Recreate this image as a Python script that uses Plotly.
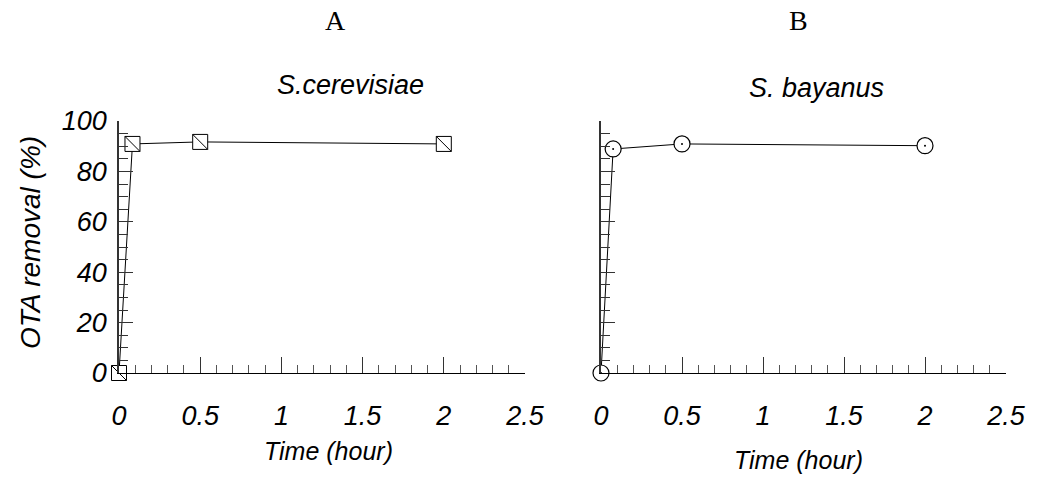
import plotly.graph_objects as go

# ---- data ----
time_a = [0, 0.083, 0.5, 2]
removal_a = [0, 90.9, 91.7, 90.9]
time_b = [0, 0.075, 0.5, 2]
removal_b = [0, 88.9, 90.9, 90.2]

panel_letters = ["A", "B"]
strain_names = ["S.cerevisiae", "S. bayanus"]
x_tickvals = [0, 0.5, 1, 1.5, 2, 2.5]
x_ticktext = ["0", "0.5", "1", "1.5", "2", "2.5"]
y_tickvals = [0, 20, 40, 60, 80, 100]
y_ticktext = ["0", "20", "40", "60", "80", "100"]
x_title = "Time (hour)"
y_title = "OTA removal (%)"

W, H = 1037, 486
SANS = "Liberation Sans, Arial, sans-serif"
SERIF = "Liberation Serif, Times New Roman, serif"

def px(x):
    return x / W

def py(y):
    return (H - y) / H

fig = go.Figure()

# Panel A: squares with a diagonal
fig.add_trace(go.Scatter(
    x=time_a, y=removal_a, mode="lines+markers", xaxis="x", yaxis="y",
    line=dict(color="black", width=1),
    marker=dict(symbol="square", size=15, color="white",
                line=dict(color="black", width=1)),
    cliponaxis=False, showlegend=False))
fig.add_trace(go.Scatter(
    x=time_a, y=removal_a, mode="markers", xaxis="x", yaxis="y",
    marker=dict(symbol="line-nw", size=15, color="black",
                line=dict(color="black", width=1)),
    cliponaxis=False, showlegend=False))

# Panel B: circles with a centre dot
fig.add_trace(go.Scatter(
    x=time_b, y=removal_b, mode="lines+markers", xaxis="x2", yaxis="y2",
    line=dict(color="black", width=1),
    marker=dict(symbol="circle", size=16, color="white",
                line=dict(color="black", width=1.2)),
    cliponaxis=False, showlegend=False))
fig.add_trace(go.Scatter(
    x=time_b, y=removal_b, mode="markers", xaxis="x2", yaxis="y2",
    marker=dict(symbol="circle", size=2, color="black"),
    cliponaxis=False, showlegend=False))

tickfont = dict(family=SANS, size=27, color="black", style="italic")

def xaxis(domain, anchor):
    return dict(
        domain=domain, anchor=anchor, range=[0, 2.5],
        showline=True, linecolor="black", linewidth=1,
        showgrid=False, zeroline=False, automargin=False,
        tickmode="array", tickvals=x_tickvals, ticktext=x_ticktext,
        ticks="inside", ticklen=16, tickwidth=1, tickcolor="#333",
        minor=dict(dtick=0.1, tick0=0, ticks="inside", ticklen=8,
                   tickwidth=1, tickcolor="#555"),
        tickfont=tickfont, ticklabelstandoff=19,
    )

def yaxis(domain, anchor, labels):
    return dict(
        domain=domain, anchor=anchor, range=[0, 100],
        showline=True, linecolor="#333", linewidth=1.5,
        showgrid=False, zeroline=False, automargin=False,
        tickmode="array", tickvals=y_tickvals, ticktext=y_ticktext,
        showticklabels=labels,
        ticks="inside", ticklen=14, tickwidth=1, tickcolor="#333",
        minor=dict(dtick=5, tick0=0, ticks="inside", ticklen=9,
                   tickwidth=1, tickcolor="#333"),
        tickfont=tickfont, ticklabelstandoff=5,
    )

ydom = [py(373), py(121)]
fig.update_layout(
    width=W, height=H,
    margin=dict(l=0, r=0, t=0, b=0, autoexpand=False),
    paper_bgcolor="white", plot_bgcolor="white",
    xaxis=xaxis([px(119), px(525)], "y"),
    yaxis=yaxis(ydom, "x", True),
    xaxis2=xaxis([px(601), px(1006)], "y2"),
    yaxis2=yaxis(ydom, "x2", False),
)

ann = []
# panel letters
for letter, xc in zip(panel_letters, [335, 798]):
    ann.append(dict(x=px(xc), y=py(21), xref="paper", yref="paper",
                    text=letter, showarrow=False,
                    font=dict(family=SERIF, size=28, color="black"),
                    xanchor="center", yanchor="middle"))
# strain names
for name, xc, yc in zip(strain_names, [350, 816], [85, 88]):
    ann.append(dict(x=px(xc), y=py(yc), xref="paper", yref="paper",
                    text=name, showarrow=False,
                    font=dict(family=SANS, size=27, color="black", style="italic"),
                    xanchor="center", yanchor="middle"))
# x axis titles
for xc, yc in zip([328, 798], [451, 460]):
    ann.append(dict(x=px(xc), y=py(yc), xref="paper", yref="paper",
                    text=x_title, showarrow=False,
                    font=dict(family=SANS, size=25, color="black", style="italic"),
                    xanchor="center", yanchor="middle"))
# y axis title
ann.append(dict(x=px(30), y=py(243), xref="paper", yref="paper",
                text=y_title, showarrow=False, textangle=-90,
                font=dict(family=SANS, size=28, color="black", style="italic"),
                xanchor="center", yanchor="middle"))
fig.update_layout(annotations=ann)

fig.write_html("out.html")
